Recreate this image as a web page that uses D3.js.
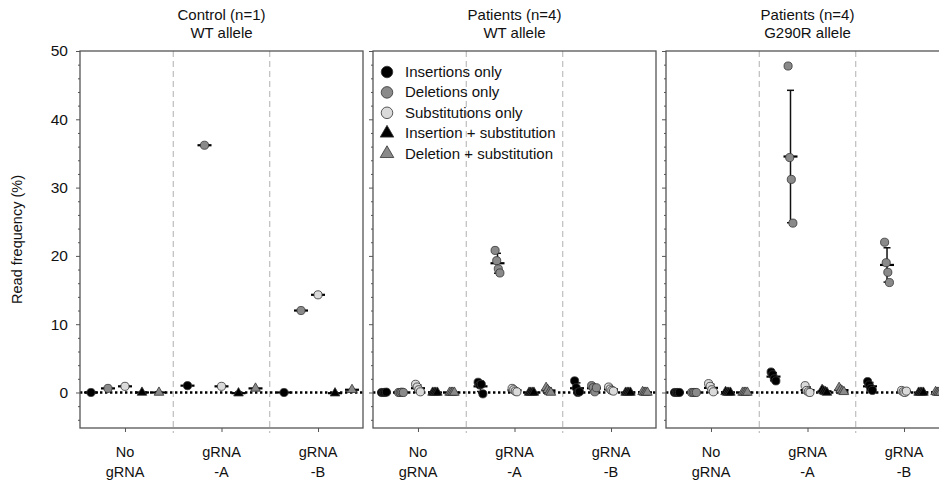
<!DOCTYPE html>
<html>
<head>
<meta charset="utf-8">
<script src="https://cdn.jsdelivr.net/npm/d3@7"></script>
<style>
  body { margin: 0; background: #fff; }
  text { font-family: "Liberation Sans", Arial, Helvetica, sans-serif; fill: #111; }
</style>
</head>
<body>
<div id="chart"></div>
<script>
// panels, groups and series
var panelTitles = [["Control (n=1)", "WT allele"], ["Patients (n=4)", "WT allele"], ["Patients (n=4)", "G290R allele"]];
var groups = [["No", "gRNA"], ["gRNA", "-A"], ["gRNA", "-B"]];
var seriesNames = ["Insertions only", "Deletions only", "Substitutions only", "Insertion + substitution", "Deletion + substitution"];
var yTicks = [0, 10, 20, 30, 40, 50];

// read frequency (%) : [group][series][sample]
var controlWT = [
  [[0.0], [0.6], [0.9], [0.0], [0.0]],
  [[1.0], [36.2], [0.9], [-0.1], [0.6]],
  [[0.0], [12.0], [14.3], [-0.1], [0.4]]
];
var patientsWT = [
  [[0, 0, 0, 0.05], [0, 0, 0.05, 0], [1.2, 0.8, 0.4, 0.1], [0, 0, 0, 0], [0, 0, 0, 0]],
  [[1.5, 1.1, 1.2, -0.2], [20.8, 19.3, 18.1, 17.5], [0.6, 0.4, 0.2, 0.1], [0, 0, 0, 0], [0.7, 0.4, 0.1, 0]],
  [[1.7, 0.7, 0, 0.1], [1.0, 0.7, 0.1, 0.7], [0.8, 0.5, 0.3, 0.2], [0, 0, 0, 0], [0.1, 0, 0, 0]]
];
var patientsG290R = [
  [[0, 0, 0, 0], [0, 0, 0, 0], [1.3, 0.9, 0.4, 0.1], [0.1, 0, 0, 0], [0, 0, 0, 0]],
  [[3.0, 2.6, 2.0, 1.7], [47.8, 34.4, 31.2, 24.8], [1.0, 0.3, 0.1, 0], [0.4, 0.2, 0.1, 0], [0.7, 0.4, 0.2, 0.1]],
  [[1.6, 1.1, 0.6, 0.3], [22.0, 19.0, 17.6, 16.1], [0.3, 0.1, 0, 0.2], [0, 0, 0, 0], [0.1, 0, 0, 0]]
];
var panelData = [controlWT, patientsWT, patientsG290R];

// marker styles
var fills = ["#000", "#8a8a8a", "#dadada", "#000", "#8a8a8a"];
var shapes = [d3.symbolCircle, d3.symbolCircle, d3.symbolCircle, d3.symbolTriangle, d3.symbolTriangle];
var jitter = [-2.4, -0.8, 0.8, 2.4];

var W = 939, H = 485;
var panelW = 283, panelLeft = [80, 373, 666];
var yTop = 51, yBottom = 428;

var svg = d3.select("#chart").append("svg")
  .attr("width", W).attr("height", H);

var y = d3.scaleLinear().domain([-5.2, 50]).range([yBottom, yTop]);

var xg = d3.scalePoint().domain(d3.range(groups.length))
  .range([0, panelW]).padding(0.466);
var xs = d3.scalePoint().domain(d3.range(seriesNames.length)).range([-34, 34]);

// y label
svg.append("text")
  .attr("transform", "translate(22," + ((yTop + yBottom) / 2) + ") rotate(-90)")
  .attr("text-anchor", "middle")
  .style("font-size", "14.5px")
  .text("Read frequency (%)");

panelData.forEach(function(data, p) {
  var g = svg.append("g").attr("transform", "translate(" + panelLeft[p] + ",0)");

  // titles
  g.selectAll(".title").data(panelTitles[p]).enter().append("text")
    .attr("x", panelW / 2)
    .attr("y", function(d, i) { return 20 + i * 18; })
    .attr("text-anchor", "middle")
    .style("font-size", "15px")
    .text(function(d) { return d; });

  // group separators
  d3.range(groups.length - 1).forEach(function(i) {
    var sx = xg(i) + xg.step() / 2;
    g.append("line")
      .attr("x1", sx).attr("x2", sx)
      .attr("y1", yTop).attr("y2", yBottom + 5)
      .style("stroke", "#b0b0b0").style("stroke-width", 1)
      .style("stroke-dasharray", "6,4");
  });

  // zero line
  g.append("line")
    .attr("x1", 0).attr("x2", panelW)
    .attr("y1", y(0)).attr("y2", y(0))
    .style("stroke", "#000").style("stroke-width", 2.4)
    .style("stroke-dasharray", "2.4,2.6");

  // minor + major y ticks
  var minor = d3.range(-4, 50, 2).filter(function(v) { return v % 10 !== 0; });
  g.append("g")
    .call(d3.axisLeft(y).tickValues(minor).tickSize(2).tickFormat(""))
    .call(function(a) { a.select(".domain").remove(); a.selectAll("line").style("stroke", "#555"); });
  g.append("g")
    .call(d3.axisLeft(y).tickValues(yTicks).tickSize(4).tickPadding(8)
      .tickFormat(p === 0 ? d3.format("d") : ""))
    .call(function(a) {
      a.select(".domain").remove();
      a.selectAll("line").style("stroke", "#555");
      a.selectAll("text").style("font-size", "15.5px").attr("fill", "#111");
    });

  // x axis
  var xa = g.append("g").attr("transform", "translate(0," + yBottom + ")")
    .call(d3.axisBottom(xg).tickSize(4).tickFormat(""));
  xa.select(".domain").remove();
  xa.selectAll("line").style("stroke", "#555");
  groups.forEach(function(lab, i) {
    g.append("text")
      .attr("x", xg(i)).attr("text-anchor", "middle")
      .style("font-size", "14.5px")
      .selectAll("tspan").data(lab).enter().append("tspan")
      .attr("x", xg(i))
      .attr("y", function(d, k) { return 457 + k * 20; })
      .text(function(d) { return d; });
  });

  // frame
  g.append("rect")
    .attr("x", 0).attr("y", yTop).attr("width", panelW).attr("height", yBottom - yTop)
    .style("fill", "none").style("stroke", "#555").style("stroke-width", 1.3);

  // error bars + means, then points
  data.forEach(function(grp, gi) {
    grp.forEach(function(vals, si) {
      var cx = xg(gi) + xs(si);
      var m = d3.mean(vals);
      if (vals.length > 1) {
        var sd = d3.deviation(vals);
        g.append("line")
          .attr("x1", cx).attr("x2", cx)
          .attr("y1", y(m - sd)).attr("y2", y(m + sd))
          .style("stroke", "#111").style("stroke-width", 1.5);
        [m - sd, m + sd].forEach(function(v) {
          g.append("line")
            .attr("x1", cx - 3.5).attr("x2", cx + 3.5)
            .attr("y1", y(v)).attr("y2", y(v))
            .style("stroke", "#111").style("stroke-width", 1.5);
        });
      }
      g.append("line")
        .attr("x1", cx - 7).attr("x2", cx + 7)
        .attr("y1", y(m)).attr("y2", y(m))
        .style("stroke", "#000").style("stroke-width", 2.2);
    });
  });

  data.forEach(function(grp, gi) {
    grp.forEach(function(vals, si) {
      var cx = xg(gi) + xs(si);
      g.selectAll(null).data(vals).enter().append("path")
        .attr("d", d3.symbol().type(shapes[si]).size(shapes[si] === d3.symbolCircle ? 52 : 40))
        .attr("transform", function(d, k) {
          var dx = vals.length > 1 ? jitter[k] : 0;
          return "translate(" + (cx + dx) + "," + y(d) + ")";
        })
        .style("fill", fills[si])
        .style("stroke", "#333").style("stroke-width", 0.8);
    });
  });

  // legend in middle panel
  if (p === 1) {
    var lg = g.append("g").attr("transform", "translate(14,72)");
    seriesNames.forEach(function(name, i) {
      var row = lg.append("g").attr("transform", "translate(0," + (i * 20.4) + ")");
      row.append("path")
        .attr("d", d3.symbol().type(shapes[i]).size(shapes[i] === d3.symbolCircle ? 105 : 80))
        .style("fill", fills[i]).style("stroke", "#333").style("stroke-width", 0.8);
      row.append("text")
        .attr("x", 18).attr("y", 5)
        .style("font-size", "15px")
        .text(name);
    });
  }
});
</script>
</body>
</html>
